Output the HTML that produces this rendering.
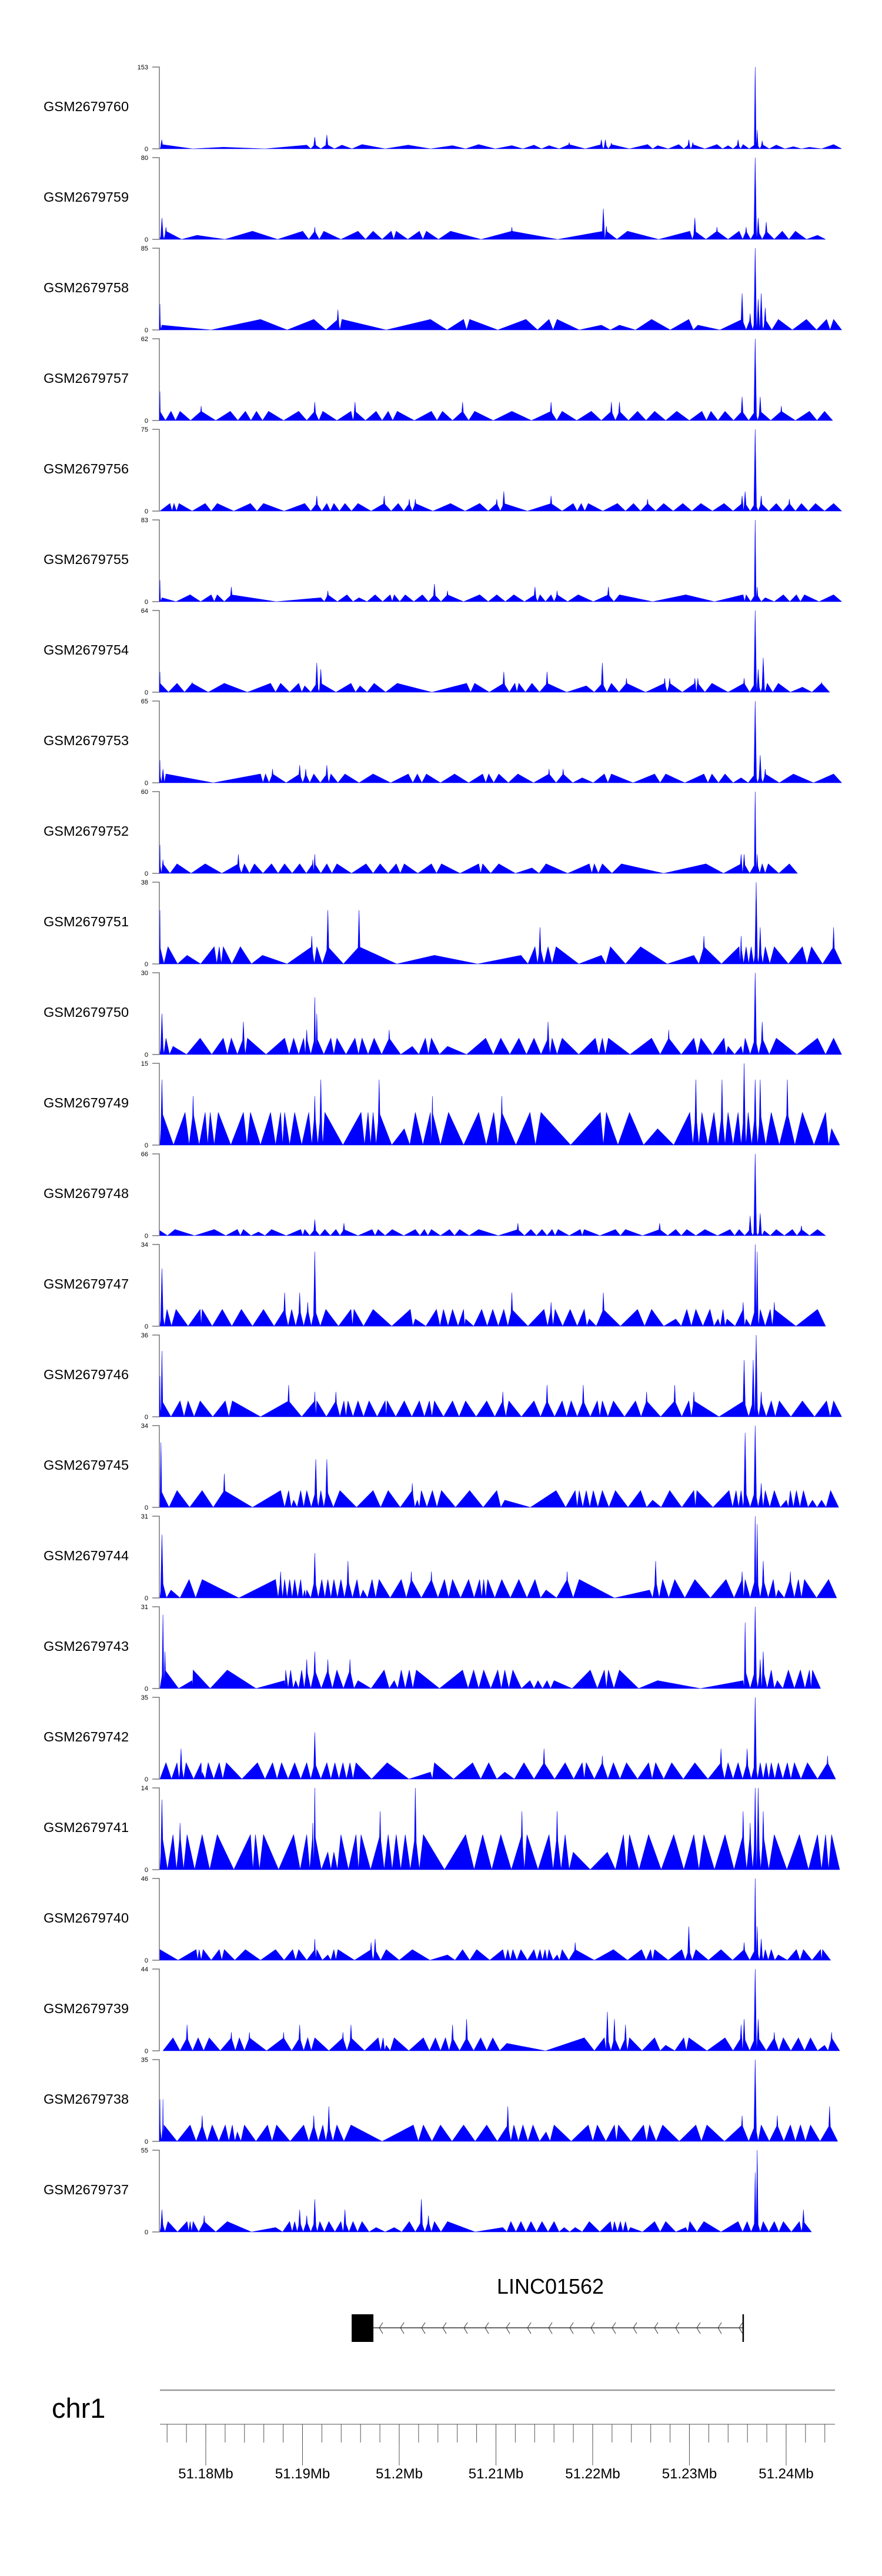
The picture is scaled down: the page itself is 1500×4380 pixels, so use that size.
<!DOCTYPE html>
<html><head><meta charset="utf-8"><style>
html,body{margin:0;padding:0;background:#fff;}
svg{display:block;font-family:"Liberation Sans",Arial,sans-serif;}
</style></head><body>
<svg id="chart" width="1500" height="4380" viewBox="0 0 1500 4380" xmlns="http://www.w3.org/2000/svg">
<g id="tracks"></g>
<g id="gene">
  <text x="936" y="3900" font-size="36" text-anchor="middle" fill="#000">LINC01562</text>
</g>
<g id="axis">
  <text x="88" y="4111" font-size="47" fill="#000">chr1</text>
</g>
</svg>
<script>
const sampleNames=["GSM2679760","GSM2679759","GSM2679758","GSM2679757","GSM2679756","GSM2679755","GSM2679754","GSM2679753","GSM2679752","GSM2679751","GSM2679750","GSM2679749","GSM2679748","GSM2679747","GSM2679746","GSM2679745","GSM2679744","GSM2679743","GSM2679742","GSM2679741","GSM2679740","GSM2679739","GSM2679738","GSM2679737"];
const yMax=[153,80,85,62,75,83,64,65,60,38,30,15,66,34,36,34,31,31,35,14,46,44,35,55];
// peak positions in kb from the left edge of the view, and peak values
const pos0=[0.18,6.3,14.6,15.4,16.6,18.1,20.1,24.7,29.1,31.7,35.0,37.2,38.7,40.7,43.9,44.3,44.9,48.5,49.5,51.6,52.6,53.0,55.4,56.5,57.5,58.0,59.2,59.4,59.9,61.3,63.0,64.6,67.0];
const val0=[17,3,7,22,26,7,8,7,6,8,6,7,6,12,17,17,11,8,6,8,17,12,8,6,17,8,153,35,15,7,4,3,8];
const pos1=[0.2,0.6,3.7,9.2,14.2,15.4,16.3,19.7,21.2,23.0,23.5,25.8,26.5,28.9,35.0,44.1,44.4,46.5,52.7,53.2,55.4,57.6,58.3,59.2,59.5,60.3,61.9,63.2,65.4];
const val1=[21,12,4,8,8,12,8,8,8,8,8,8,8,8,12,30,13,8,8,21,12,8,12,80,21,17,8,8,4];
const pos2=[0.0,0.2,10.0,15.3,17.7,18.1,26.9,30.2,30.8,36.4,38.7,39.5,43.9,45.7,48.9,52.6,53.5,57.9,58.7,59.2,59.5,59.8,60.2,61.5,64.3,66.3,67.0];
const val2=[27,5,11,11,21,11,11,11,11,11,11,11,5,5,11,11,5,38,17,85,32,38,23,11,11,11,11];
const pos3=[0.0,1.1,2.0,4.1,7.0,8.5,9.6,10.8,13.8,15.4,16.2,19.0,19.4,21.5,22.7,23.6,27.0,28.1,30.1,31.3,35.0,38.9,40.0,42.9,44.9,45.7,47.5,49.2,51.4,53.9,54.8,56.2,57.9,59.2,59.7,61.8,64.6,66.1];
const val3=[22,7,7,11,7,7,7,7,7,14,7,7,14,7,7,7,7,7,14,7,7,14,7,7,14,14,7,7,7,7,7,7,18,62,18,11,7,7];
const pos4=[1.0,1.4,1.9,4.5,5.7,9.0,10.3,14.4,15.6,16.6,17.3,18.4,19.7,22.3,23.7,24.8,25.4,28.9,31.8,33.5,34.2,38.9,41.1,41.9,42.6,45.5,47.1,48.5,50.1,52.0,53.8,56.1,57.9,58.2,59.2,59.8,61.3,62.6,63.8,65.2,67.0];
const val4=[7,7,7,7,7,7,7,7,14,7,7,7,7,14,7,11,11,7,7,11,18,14,7,7,7,7,7,11,7,7,7,7,14,18,75,14,7,11,7,7,7];
const pos5=[0.0,0.2,3.0,5.1,5.7,7.1,16.0,16.7,18.6,19.8,21.4,22.9,23.3,24.4,26.1,27.3,28.6,31.8,33.5,35.2,37.3,37.8,38.9,39.5,41.6,44.6,45.7,52.3,58.0,58.3,59.2,59.4,60.2,62.0,63.3,64.1,67.0];
const val5=[22,4,7,7,7,15,4,11,7,4,7,7,7,7,7,18,11,7,7,7,15,7,7,11,7,15,7,7,7,7,83,15,4,7,7,7,7];
const pos6=[0.0,1.7,3.2,6.4,11.0,12.0,13.8,14.4,15.6,16.0,19.0,19.9,21.3,23.6,30.5,31.3,34.2,35.3,35.7,37.0,38.5,42.4,44.0,44.9,46.4,50.2,50.7,53.2,53.5,54.9,58.1,59.2,59.5,60.0,60.4,61.5,63.9,65.8];
const val6=[16,7,8,7,7,7,7,5,23,18,7,5,7,7,7,7,16,7,7,7,16,5,23,7,11,11,11,11,11,7,11,64,18,27,7,7,4,8];
const pos7=[0.0,0.3,0.6,10.0,10.5,11.2,13.9,14.5,15.3,16.6,17.0,18.4,21.2,24.7,25.6,26.5,29.3,32.1,32.7,33.7,35.6,38.7,40.1,42.0,44.2,44.9,49.2,50.3,54.1,54.9,56.2,57.8,59.2,59.7,60.2,63.0,67.0];
const val7=[18,11,7,7,7,11,14,11,7,14,7,7,7,7,7,7,7,7,7,7,7,11,11,4,7,7,7,7,7,7,7,4,65,22,11,7,7];
const pos8=[0.0,0.3,1.7,4.5,7.8,8.4,9.4,11.1,12.4,13.9,15.2,15.4,16.6,17.6,20.5,21.9,23.5,24.3,27.0,28.0,31.7,32.1,33.7,37.0,38.4,42.7,43.2,44.0,45.9,54.3,57.8,58.1,59.2,59.4,59.9,60.5,62.6];
const val8=[21,10,7,7,14,7,7,7,7,7,10,14,7,7,7,7,7,7,7,7,7,7,7,4,7,7,7,7,7,7,14,14,60,14,7,7,7];
const pos9=[0.0,0.8,2.7,5.4,5.9,6.3,8.0,10.2,15.1,15.6,16.7,19.8,27.3,35.9,37.3,37.8,38.6,39.4,43.9,44.8,47.8,53.1,54.1,57.6,57.8,58.3,58.8,59.3,59.7,60.2,61.1,63.9,64.8,67.0];
const val9=[25,8,4,8,8,8,8,4,13,8,25,25,4,4,8,17,8,8,4,8,8,4,13,8,13,8,8,38,17,8,8,8,8,17];
const pos10=[0.2,0.6,1.3,4.0,6.3,7.1,8.3,8.7,12.4,13.3,14.3,14.6,15.4,15.6,17.0,17.6,19.4,20.1,21.3,22.8,25.1,26.4,27.0,28.6,32.4,33.9,35.7,37.2,38.6,39.0,40.0,43.3,44.0,44.6,48.9,50.6,53.1,53.8,56.1,56.5,57.8,58.2,59.2,59.9,61.3,65.4,67.0];
const val10=[15,6,3,6,6,6,12,6,6,6,6,9,21,15,6,6,6,6,6,9,3,6,6,3,6,6,6,6,12,6,6,6,6,6,6,9,6,6,6,3,3,6,30,12,6,6,6];
const pos11=[0.2,2.5,3.3,4.5,5.0,5.8,8.3,9.0,11.0,12.0,12.4,13.4,14.8,15.4,16.0,16.4,20.0,20.7,21.2,21.8,24.3,25.4,26.9,27.1,28.7,31.7,33.2,34.0,36.8,37.9,43.8,44.4,46.7,49.5,52.7,53.3,53.9,55.1,55.9,56.5,57.5,58.1,58.5,59.2,59.7,60.8,62.4,63.9,66.2,66.8];
const val11=[12,6,9,6,6,6,6,6,6,6,6,6,6,9,12,6,6,6,6,12,3,6,6,9,6,6,6,9,6,6,6,6,6,3,6,12,6,6,12,6,6,15,6,12,12,6,12,6,6,3];
const pos12=[0.0,1.5,5.4,7.7,8.3,9.8,11.1,14.0,14.4,15.4,16.4,17.5,18.3,21.1,21.7,23.1,25.4,26.3,27.0,28.8,29.8,31.7,35.6,36.9,38.0,39.0,39.6,41.8,42.2,45.3,46.3,49.7,51.3,52.4,54.2,56.7,57.6,58.7,59.2,59.7,60.1,61.3,62.9,63.8,65.4];
const val12=[4,5,5,5,5,3,5,5,5,13,5,5,10,5,5,5,5,5,5,5,5,5,10,5,5,5,5,5,5,5,5,10,5,5,5,5,5,16,66,18,4,5,5,8,5];
const pos13=[0.2,0.7,1.6,4.0,4.2,6.2,8.1,10.3,12.4,13.1,13.9,14.7,15.4,16.5,19.0,19.3,21.2,24.9,25.4,27.5,28.2,29.1,30.2,30.4,32.0,33.1,34.2,35.0,38.2,38.9,39.3,40.8,42.2,42.7,44.1,47.5,48.9,51.3,52.4,53.3,54.7,55.5,56.0,56.4,58.0,58.3,59.2,59.4,59.7,60.7,61.1,65.4];
const val13=[24,7,7,7,7,7,7,7,14,7,14,10,31,7,7,7,7,7,3,7,7,7,7,3,7,7,7,14,7,10,7,7,7,3,14,7,7,3,7,7,7,3,7,3,10,3,34,31,7,7,10,7];
const pos14=[0.0,0.2,2.0,2.8,4.0,6.5,7.2,12.8,15.4,15.6,17.5,18.3,18.7,19.7,20.8,22.4,22.6,24.3,25.8,26.8,27.3,29.1,30.4,32.5,34.1,34.7,37.2,38.5,40.0,40.9,42.1,43.5,44.0,45.1,47.3,48.4,51.2,52.6,53.1,58.1,59.0,59.3,59.8,60.8,61.6,63.9,66.3,67.0];
const val14=[18,29,7,7,7,7,7,14,11,7,11,7,7,7,7,7,7,7,7,7,7,7,7,7,11,7,7,14,7,7,14,7,7,7,7,11,14,7,11,25,25,36,11,7,7,7,7,7];
const pos15=[0.1,1.7,4.2,6.4,12.0,12.8,13.3,14.0,14.6,15.5,16.0,16.6,17.9,21.2,22.7,25.1,25.6,26.0,27.1,28.0,30.8,33.5,34.3,39.4,41.3,41.7,42.4,43.1,44.0,45.3,47.8,49.0,50.7,53.1,53.4,56.6,57.3,57.8,58.2,59.2,59.8,60.2,61.1,62.3,62.7,63.3,64.0,64.9,65.8,66.7];
const val15=[27,7,7,14,7,7,3,7,7,20,7,20,7,7,7,10,3,7,7,7,7,7,3,7,7,7,7,7,7,7,7,3,7,7,7,7,7,7,31,34,10,7,7,3,7,7,7,3,3,7];
const pos16=[0.2,1.1,2.9,4.2,11.5,12.0,12.4,12.9,13.4,14.0,14.4,14.6,15.4,16.1,16.7,17.3,18.0,18.7,19.6,20.2,21.1,21.8,24.0,25.0,27.0,28.3,29.1,30.7,31.8,32.2,32.6,34.0,35.7,37.3,38.4,40.5,41.7,48.7,49.3,50.0,51.2,53.2,56.3,57.9,58.2,59.2,59.4,60.0,61.0,61.5,62.7,63.5,64.1,66.5];
const val16=[24,3,7,7,7,10,7,7,7,7,3,3,17,7,7,7,7,14,7,3,7,7,7,10,10,7,7,7,7,7,7,7,7,7,3,10,7,3,14,7,7,7,7,10,7,31,28,14,7,3,10,7,7,7];
const pos17=[0.3,0.5,3.2,3.3,6.7,12.4,12.5,13.0,13.5,14.1,14.6,15.4,16.7,17.6,18.9,19.7,22.3,23.3,24.0,24.8,25.5,30.1,31.2,32.2,33.6,34.3,35.1,36.8,37.6,38.5,39.2,42.8,44.2,44.6,45.7,49.5,58.0,58.2,59.2,59.7,60.0,60.8,61.4,62.5,63.7,64.6,64.9];
const val17=[28,14,3,7,7,3,7,7,3,7,11,14,11,7,11,3,7,3,7,7,7,7,7,7,7,7,7,3,3,3,3,7,7,7,7,3,3,25,31,11,14,7,3,7,7,7,7];
const pos18=[0.6,1.7,2.1,2.6,4.1,4.2,4.8,5.9,6.6,9.7,11.2,12.1,13.4,14.6,15.4,16.6,17.4,18.2,18.9,19.5,22.6,26.9,27.3,31.1,32.7,34.3,36.2,38.2,40.3,42.0,42.4,44.0,45.1,46.4,48.6,49.3,50.9,53.2,55.8,56.5,57.5,58.4,59.2,59.7,60.3,60.8,61.5,62.4,63.1,64.4,66.4];
const val18=[7,7,13,7,7,3,7,7,7,7,7,7,7,7,20,7,7,7,7,7,7,3,7,7,7,3,7,13,7,7,7,10,7,7,7,7,7,7,13,7,7,13,35,7,7,7,7,7,7,7,10];
const pos19=[0.2,1.3,2.0,2.7,4.2,5.7,9.0,9.5,10.3,13.3,14.6,15.2,15.4,16.7,17.3,18.0,19.5,20.0,21.9,22.7,23.5,24.4,25.4,26.2,30.4,32.1,33.9,36.0,36.5,38.7,39.5,40.3,41.1,44.5,46.1,46.7,48.6,51.1,53.1,54.1,56.2,58.0,58.7,59.2,59.5,60.0,61.1,63.6,65.4,66.2,66.8];
const val19=[12,6,8,6,6,6,6,6,6,6,6,8,14,3,3,6,6,6,10,6,6,6,14,6,6,6,6,10,6,6,10,6,3,3,6,6,6,6,6,6,6,10,8,14,14,10,6,6,6,6,6];
const pos20=[0.0,3.6,3.9,4.3,5.9,6.4,8.5,11.5,13.2,13.8,15.4,15.6,16.7,17.3,17.7,21.0,21.4,22.5,25.1,28.6,30.1,31.5,34.1,34.6,35.1,35.9,37.2,37.8,38.3,38.7,39.5,40.0,41.3,45.1,47.9,48.8,49.2,51.9,52.6,53.3,55.8,58.1,59.2,59.4,59.8,60.2,60.8,61.5,63.3,64.0,65.7,65.9];
const val20=[6,6,6,6,6,6,6,6,6,6,12,6,3,6,6,10,12,6,6,3,6,6,6,6,6,6,6,6,6,6,3,6,10,6,6,6,6,6,19,6,6,10,46,19,12,6,6,3,6,6,6,6];
const pos21=[1.3,2.7,3.8,4.9,7.1,7.9,8.9,12.3,13.9,14.7,15.4,18.2,19.0,21.7,22.2,22.5,23.3,26.2,27.4,28.4,29.1,30.5,31.9,33.1,34.5,42.2,44.2,44.5,45.2,46.3,46.7,49.2,50.3,52.1,52.6,56.2,57.8,58.1,59.2,59.5,61.1,62.0,63.5,64.7,66.1,66.8];
const val21=[7,14,7,7,10,7,10,10,14,7,7,10,14,7,7,3,7,7,7,7,14,17,7,7,4,7,7,21,17,14,7,7,3,7,7,7,14,17,44,17,10,7,7,7,3,10];
const pos22=[0.0,0.3,0.4,3.0,4.2,5.2,6.5,7.2,7.7,8.4,10.7,11.6,14.3,15.3,16.2,16.8,17.6,19.0,25.2,26.2,27.9,30.2,32.5,34.6,35.2,36.1,37.1,38.4,39.2,42.6,43.5,45.2,45.6,48.1,48.7,50.0,53.3,54.4,57.9,59.2,59.8,61.4,62.7,63.7,64.7,66.6];
const val22=[18,18,7,7,11,7,7,7,4,7,7,7,7,11,7,15,7,7,7,7,7,7,7,15,7,7,7,4,7,7,7,7,7,7,7,7,7,7,11,35,7,11,7,7,7,15];
const pos23=[0.2,0.8,2.7,3.0,3.3,4.4,6.7,11.5,12.9,13.4,13.9,14.6,15.4,15.9,16.8,18.0,18.4,19.2,20.1,21.5,23.3,24.8,26.0,26.7,27.3,28.6,34.1,34.9,35.9,36.9,38.0,39.2,40.2,41.3,42.7,44.8,45.2,45.8,46.3,46.8,49.2,50.3,52.3,52.7,54.1,57.5,58.4,59.2,59.4,60.0,61.1,62.0,63.6,64.0];
const val23=[15,7,7,7,7,11,7,3,7,7,15,11,22,7,7,7,15,7,7,3,3,7,22,11,7,7,3,7,7,7,7,7,3,3,7,7,7,7,7,3,7,7,3,7,7,7,7,40,55,7,7,7,7,15];
const peakPos=[pos0,pos1,pos2,pos3,pos4,pos5,pos6,pos7,pos8,pos9,pos10,pos11,pos12,pos13,pos14,pos15,pos16,pos17,pos18,pos19,pos20,pos21,pos22,pos23];
const peakVal=[val0,val1,val2,val3,val4,val5,val6,val7,val8,val9,val10,val11,val12,val13,val14,val15,val16,val17,val18,val19,val20,val21,val22,val23];
const majorTicks=[51.18,51.19,51.2,51.21,51.22,51.23,51.24];
const majorLabels=["51.18Mb","51.19Mb","51.2Mb","51.21Mb","51.22Mb","51.23Mb","51.24Mb"];
const geneStartMb=51.19733, geneEndMb=51.23556;

const NS="http://www.w3.org/2000/svg";
const x0=272, pxPerKb=17.1;
const xKb=kb=>x0+kb*pxPerKb;
const axisStartMb=51.17526, axisPxPerMb=16450;
const xMb=mb=>x0+(mb-axisStartMb)*axisPxPerMb;
function mk(tag,attrs,parent){const e=document.createElementNS(NS,tag);for(const k in attrs)e.setAttribute(k,attrs[k]);parent.appendChild(e);return e;}

const tracks=document.getElementById('tracks');
const top0=114, pitch=154, th=139;
for(let i=0;i<sampleNames.length;i++){
  const top=top0+i*pitch, bot=top+th;
  const yS=v=>bot-v/yMax[i]*th;
  const g=mk('g',{},tracks);
  
  
  const lab=mk('text',{x:74,y:top+75,'font-size':23.5,fill:'#000'},g);
  lab.textContent=sampleNames[i];
  
  
  const ax=mk('path',{d:`M259,${top}H271V${bot}H259`,stroke:'#777',fill:'none','stroke-width':1.5},g);
  
  
  const t1=mk('text',{x:252,y:top+4,'font-size':11,'text-anchor':'end',fill:'#000'},g);
  t1.textContent=String(yMax[i]);
  
  
  const t0=mk('text',{x:252,y:bot+4,'font-size':11,'text-anchor':'end',fill:'#000'},g);
  t0.textContent='0';
  
  
  const P=peakPos[i], V=peakVal[i];
  const sorted=V.slice().sort((a,b)=>a-b); const base=sorted[Math.floor(sorted.length/2)];
  let d='';
  for(let j=0;j<P.length;j++){
    const hl=j>0?(P[j]-P[j-1])/2:Math.min(P[j],1.0);
    const hr=j<P.length-1?(P[j+1]-P[j])/2:0.8;
    const v=V[j], bv=Math.min(v,base);
    const xc=xKb(P[j]);
    d+=`M${xKb(P[j]-hl)},${bot}L${xc},${yS(bv)}L${xKb(P[j]+hr)},${bot}Z`;
    if(v>base){
      const w=Math.max(Math.min(0.14,hl,hr),0.05);
      d+=`M${xKb(P[j]-w)},${bot}L${xc},${yS(v)}L${xKb(P[j]+w)},${bot}Z`;
    }
  }
  const area=mk('path',{d:d,fill:'#0000ff',stroke:'#0000ff','stroke-width':0.6},g);
  
  
}

// gene model
const gene=document.getElementById('gene');
const gx1=xMb(geneStartMb), gx2=xMb(geneEndMb);
const exon=mk('rect',{x:gx1-37,y:3935,width:37,height:47,fill:'#000'},gene);


const intron=mk('line',{x1:gx1,y1:3958,x2:gx2,y2:3958,stroke:'#333','stroke-width':1.5},gene);


const endTick=mk('line',{x1:gx2,y1:3935,x2:gx2,y2:3982,stroke:'#000','stroke-width':2.5},gene);


let cd='';
for(let x=gx1+10;x<gx2-5;x+=36){cd+=`M${x+6},${3949}L${x},${3958}L${x+6},${3968}`;}
const chev=mk('path',{d:cd,stroke:'#333',fill:'none','stroke-width':1},gene);



// genome axis
const axis=document.getElementById('axis');
const gl=mk('line',{x1:272,y1:4064,x2:1420,y2:4064,stroke:'#999','stroke-width':2.5},axis);


const al=mk('line',{x1:272,y1:4122,x2:1420,y2:4122,stroke:'#888','stroke-width':1.5},axis);


let td='';
for(let k=0;k<40;k++){const mb=51.176+k*0.002;const x=xMb(mb);if(x>1418)break;td+=`M${x},4122V4153`;}
const minor=mk('path',{d:td,stroke:'#555','stroke-width':1},axis);


majorTicks.forEach((mb,k)=>{
  const x=xMb(mb);
  const t=mk('line',{x1:x,y1:4122,x2:x,y2:4192,stroke:'#555','stroke-width':1},axis);
  
  
  const l=mk('text',{x:x,y:4214,'font-size':24,'text-anchor':'middle',fill:'#000'},axis);
  l.textContent=majorLabels[k];
  
  
});
</script>
</body></html>
